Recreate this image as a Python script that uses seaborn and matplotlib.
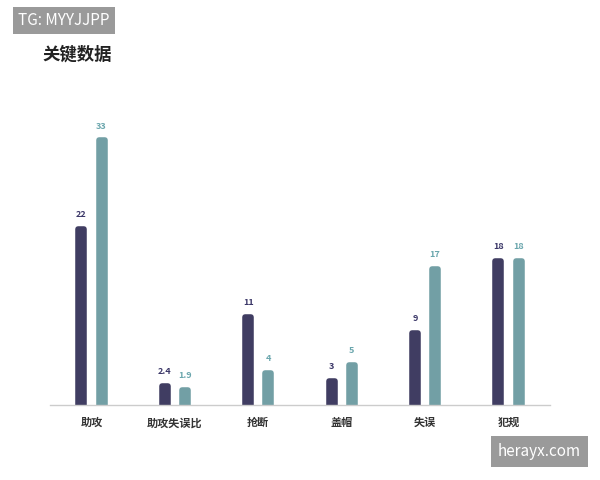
import matplotlib
matplotlib.use('Agg')
import matplotlib.pyplot as plt
import seaborn as sns
import pandas as pd

categories = ['助攻', '助攻失误比', '抢断', '盖帽', '失误', '犯规']
team_a = [22, 2.4, 11, 3, 9, 18]
team_b = [33, 1.9, 4, 5, 17, 18]
series = ['A', 'B']
colors = ['#3b3768', '#6aa6ad']

sns.set_theme(style='white')
plt.rcParams['font.family'] = ['Noto Sans CJK SC', 'DejaVu Sans']

df = pd.DataFrame({
    'cat': categories * 2,
    'val': team_a + team_b,
    'team': [series[0]] * len(categories) + [series[1]] * len(categories),
})

fig = plt.figure(figsize=(6, 4.8), dpi=100)
ax = fig.add_axes([0.083, 0.156, 0.834, 0.677])
sns.barplot(data=df, x='cat', y='val', hue='team', palette=colors,
            width=0.48, gap=0.7, ax=ax, legend=False)

for p in ax.patches:
    c = p.get_facecolor()
    p.set_edgecolor(c)
    p.set_linewidth(4)
    p.set_joinstyle('round')
    p.set_capstyle('round')

# value labels
for cont, col in zip(ax.containers, colors):
    labels = [('%g' % v) for v in cont.datavalues]
    ax.bar_label(cont, labels=labels, padding=7, fontsize=6.5,
                 fontweight='bold', color=col)

ax.set_xlim(-0.5, 5.5)
ax.set_ylim(0, 40.5)
ax.set_xlabel('')
ax.set_ylabel('')
ax.set_yticks([])
ax.tick_params(axis='x', length=0, labelsize=8, pad=8)
for lab in ax.get_xticklabels():
    lab.set_fontweight('bold')
    lab.set_color('#333333')
for s in ['top', 'left', 'right']:
    ax.spines[s].set_visible(False)
ax.spines['bottom'].set_color('#cccccc')
ax.spines['bottom'].set_linewidth(1)

fig.text(0.07, 0.875, '关键数据', fontsize=12.5, fontweight='bold', color='#222222')
fig.text(0.03, 0.948, 'TG: MYYJJPP', fontsize=11, color='white',
         bbox=dict(boxstyle='square,pad=0.35', fc='#9a9a9a', ec='none'))
fig.text(0.83, 0.05, 'herayx.com', fontsize=11, color='white',
         bbox=dict(boxstyle='square,pad=0.45', fc='#9a9a9a', ec='none'))

fig.savefig('out.png', dpi=100)
